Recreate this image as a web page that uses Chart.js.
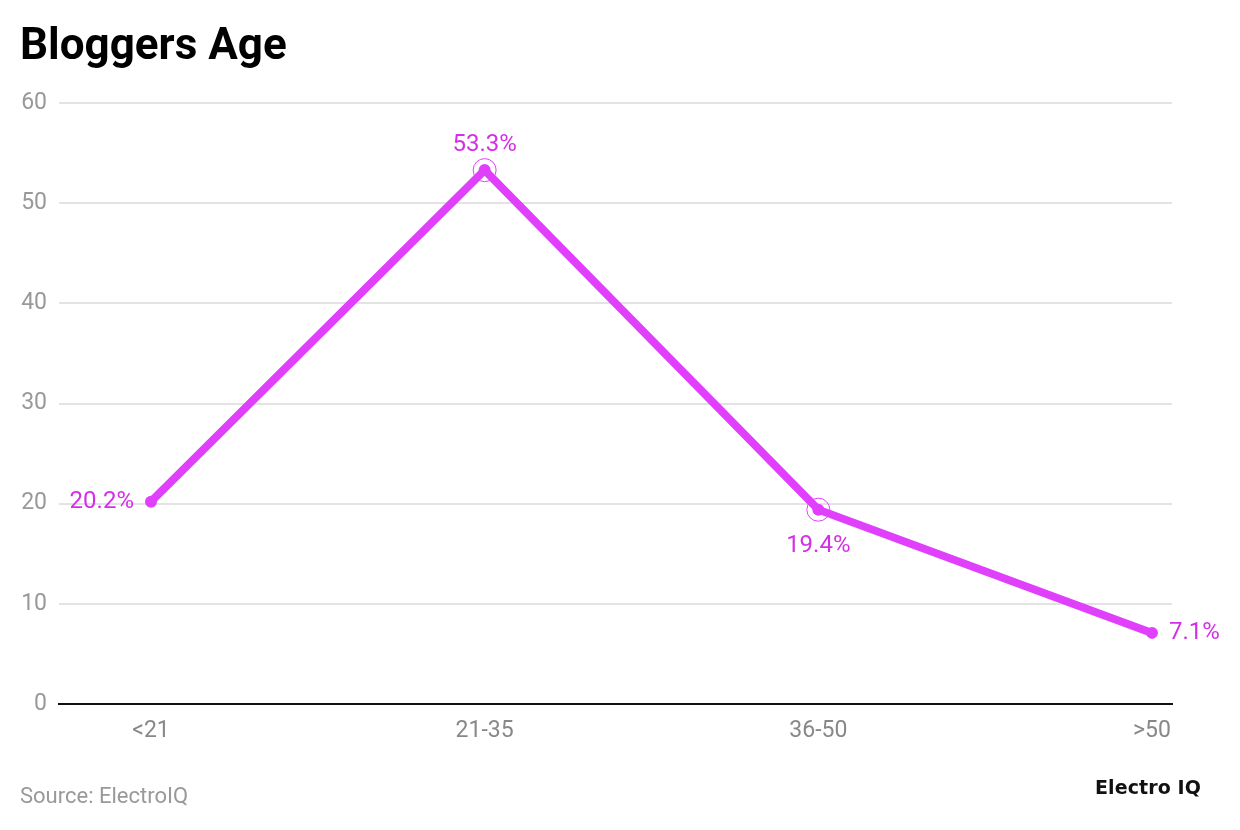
<!DOCTYPE html>
<html><head><meta charset="utf-8">
<script src="https://cdn.jsdelivr.net/npm/chart.js@4"></script>
<style>
html,body{margin:0;padding:0;background:#fff;}
#wrap{position:relative;width:1240px;height:830px;overflow:hidden;font-family:Roboto,"Noto Sans",sans-serif;}
#title{position:absolute;left:20px;top:18px;font-size:44px;font-weight:700;color:#000;letter-spacing:0px;}
#source{position:absolute;left:20px;top:783px;font-size:22px;color:#999;}
#logo{position:absolute;left:1095px;top:776px;font-size:19px;font-weight:700;color:#111;font-family:"DejaVu Sans",Roboto,sans-serif;letter-spacing:0.1px;}
canvas{position:absolute;left:0;top:0;}
</style></head><body>
<div id="wrap">
<canvas id="c" width="1240" height="830"></canvas>
<div id="title">Bloggers Age</div>
<div id="source">Source: ElectroIQ</div>
<div id="logo">Electro IQ</div>
</div>
<script>
const categories = ["<21", "21-35", "36-50", ">50"];
const values = [20.2, 53.3, 19.4, 7.1];
const labels = ["20.2%", "53.3%", "19.4%", "7.1%"];
const labelPlacement = ["left", "top", "bottom", "right"];
const ringed = [false, true, true, false];
const yTicks = [0, 10, 20, 30, 40, 50, 60];

const lineColor = '#e040fb';
const textColor = '#d42fe6';

const labelPlugin = {
  id: 'labels',
  afterDatasetsDraw(chart) {
    const ctx = chart.ctx;
    const meta = chart.getDatasetMeta(0);
    ctx.save();
    ctx.font = '24px Roboto, sans-serif';
    ctx.fillStyle = textColor;
    meta.data.forEach((pt, i) => {
      const p = labelPlacement[i];
      let x = pt.x, y = pt.y;
      if (p === 'left') { ctx.textAlign = 'right'; ctx.textBaseline = 'middle'; x -= 17; }
      else if (p === 'right') { ctx.textAlign = 'left'; ctx.textBaseline = 'middle'; x += 17; }
      else if (p === 'top') { ctx.textAlign = 'center'; ctx.textBaseline = 'middle'; y -= 25; }
      else { ctx.textAlign = 'center'; ctx.textBaseline = 'middle'; y += 36; }
      ctx.fillText(labels[i], x, y);
    });
    ctx.restore();
  }
};

new Chart(document.getElementById('c'), {
  type: 'line',
  data: {
    datasets: [{
      data: values.map((v, i) => ({x: i, y: v})),
      borderColor: lineColor,
      backgroundColor: lineColor,
      borderWidth: 8,
      pointRadius: 6,
      pointBorderWidth: 0,
      pointBackgroundColor: lineColor,
      tension: 0,
      order: 2
    }, {
      data: values.map((v, i) => ({x: i, y: v})),
      showLine: false,
      pointRadius: ringed.map(r => r ? 11.5 : 0),
      pointBorderWidth: 1,
      pointBorderColor: lineColor,
      pointBackgroundColor: 'rgba(0,0,0,0)',
      order: 1
    }]
  },
  options: {
    responsive: false,
    animation: false,
    events: [],
    layout: { padding: { top: 103, right: 68, left: 0, bottom: 0 } },
    plugins: { legend: { display: false }, tooltip: { enabled: false } },
    scales: {
      x: {
        type: 'linear',
        min: -0.2757,
        max: 3.06,
        afterBuildTicks(s) { s.ticks = categories.map((c, i) => ({value: i})); },
        afterFit(s) { s.height = 126; },
        ticks: {
          callback: (v) => categories[v],
          font: { size: 23, family: 'Roboto' },
          color: '#888',
          padding: 13,
          maxRotation: 0
        },
        grid: { display: false, drawTicks: false },
        border: { display: true, color: '#111', width: 2 }
      },
      y: {
        min: 0,
        max: 60,
        afterBuildTicks(s) { s.ticks = yTicks.map(v => ({value: v})); },
        afterFit(s) { s.width = 59; },
        ticks: {
          font: { size: 23, family: 'Roboto' },
          color: '#999',
          padding: 12
        },
        grid: { color: '#e3e3e3', lineWidth: 2, drawTicks: false },
        border: { display: false }
      }
    }
  },
  plugins: [labelPlugin]
});
</script>
</body></html>
